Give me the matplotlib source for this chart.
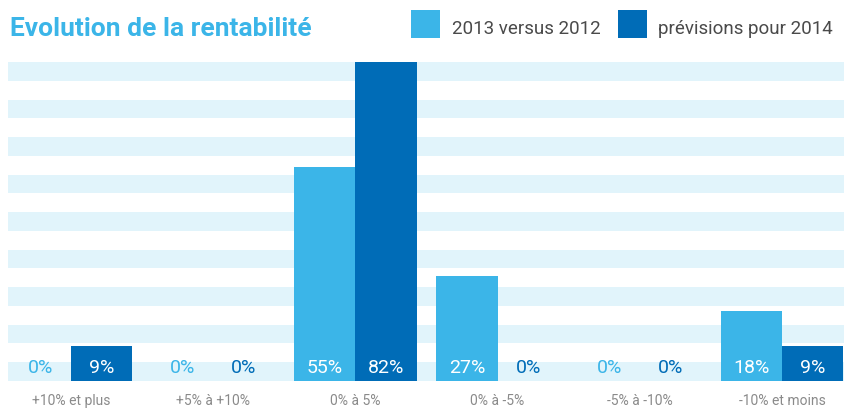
import matplotlib
matplotlib.use('Agg')
import matplotlib.pyplot as plt
from matplotlib.patches import Rectangle
import matplotlib.transforms as mtransforms
import numpy as np

# ── Data ──────────────────────────────────────────────────────────────────────
categories = ['+10% et plus', '+5% à +10%', '0% à 5%', '0% à -5%', '-5% à -10%', '-10% et moins']
vals_2013 = [0, 0, 55, 27, 0, 18]
vals_2014 = [9, 0, 82, 0, 0, 9]
series_names = ['2013 versus 2012', 'prévisions pour 2014']

LIGHT = '#3bb5e8'
DARK = '#006cb7'
STRIPE = '#e1f4fb'

plt.rcParams['font.family'] = ['Roboto', 'DejaVu Sans']

W, H, DPI = 844, 410, 100
fig = plt.figure(figsize=(W / DPI, H / DPI), dpi=DPI)
fig.patch.set_facecolor('white')

ax = fig.add_axes([8 / W, (H - 382) / H, 836 / W, 319 / H])
ax.set_facecolor('white')

# striped background: 17 equal bands, odd ones shaded
n_bands = 17
for k in range(0, n_bands, 2):
    ax.axhspan(k / n_bands * 82, (k + 1) / n_bands * 82, color=STRIPE, lw=0, zorder=0)

x = np.arange(len(categories))
w = 0.43
ax.bar(x - w / 2, vals_2013, width=w, color=LIGHT, zorder=2, linewidth=0)
ax.bar(x + w / 2, vals_2014, width=w, color=DARK, zorder=2, linewidth=0)

# value labels near the bottom of each bar
for xs, vals, col in ((x - w / 2, vals_2013, LIGHT), (x + w / 2, vals_2014, DARK)):
    for xi, v in zip(xs, vals):
        c = 'white' if v > 0 else col
        ax.annotate(f'{v}%', (xi, 0), xytext=(0, 10), textcoords='offset points',
                    ha='center', va='center', fontsize=14, color=c, zorder=3)

# category labels under each group
trans = mtransforms.blended_transform_factory(ax.transData, ax.transAxes)
for xi, lab in zip(x, categories):
    ax.annotate(lab, (xi, 0), xycoords=trans, xytext=(0, -14), textcoords='offset points',
                ha='center', va='center', fontsize=10, color='#8a8a8a')

ax.set_xlim(-0.443, 5.436)
ax.set_ylim(0, 82)
ax.set_xticks([])
ax.set_yticks([])
for s in ax.spines.values():
    s.set_visible(False)

# title
fig.text(10 / W, 1 - 36 / H, 'Evolution de la rentabilité', fontsize=19, fontweight='bold',
         color=LIGHT, ha='left', va='baseline')

# legend
for (x0, x1, tx), col, name in zip(((411, 440, 452), (618, 647, 658)), (LIGHT, DARK), series_names):
    fig.add_artist(Rectangle((x0 / W, 1 - 39 / H), (x1 - x0) / W, 28 / H,
                             transform=fig.transFigure, color=col, lw=0))
    fig.text(tx / W, 1 - 34 / H, name, fontsize=13.5, color='#4a4a4a', ha='left', va='baseline')

fig.savefig('out.png', dpi=DPI, facecolor='white')
